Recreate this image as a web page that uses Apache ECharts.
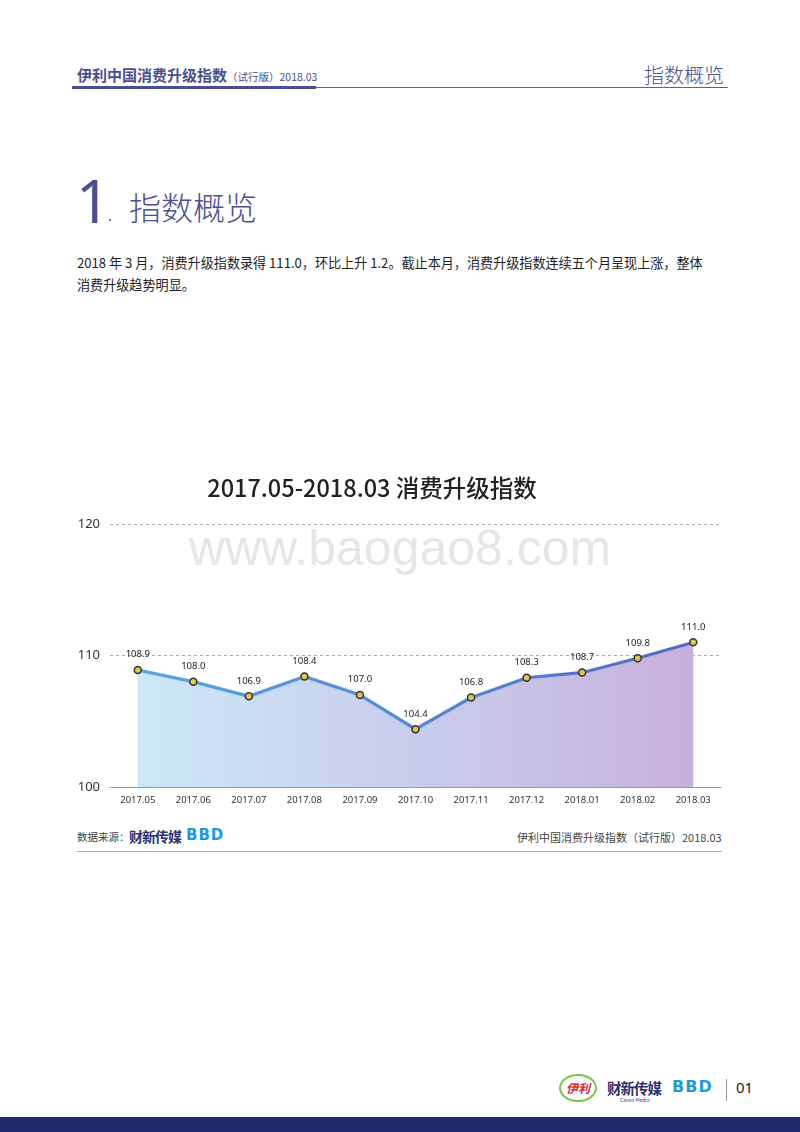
<!DOCTYPE html>
<html><head><meta charset="utf-8">
<script src="https://cdn.jsdelivr.net/npm/echarts@6/dist/echarts.min.js"></script>
<style>
html,body{margin:0;padding:0;background:#fff;}
body{width:800px;height:1132px;position:relative;overflow:hidden;font-family:"Noto Sans CJK SC","Noto Sans",sans-serif;}
.abs{position:absolute;white-space:nowrap;}
</style></head><body>
<div class="abs" style="left:77px;top:64px;font-size:15px;font-weight:bold;color:#4b4f8e;">伊利中国消费升级指数<span style="font-size:10.5px;font-weight:normal;">（试行版）2018.03</span></div>
<div class="abs" style="left:644px;top:60px;font-size:20px;color:#4b4f8e;font-weight:300;">指数概览</div>
<div class="abs" style="left:72px;top:87px;width:656px;height:1px;background:#5d6296;"></div>
<div class="abs" style="left:72px;top:86px;width:244px;height:3px;background:#4b4f8e;"></div>

<div class="abs" style="left:76px;top:166px;font-size:60px;line-height:68px;color:#4b4f8e;font-family:'Noto Sans',sans-serif;font-weight:400;">1</div>
<div class="abs" style="left:108px;top:208px;font-size:14px;line-height:14px;color:#4b4f8e;">.</div>
<div class="abs" style="left:129px;top:184px;font-size:32px;line-height:44px;color:#4b4f8e;font-weight:300;">指数概览</div>
<div class="abs" style="left:77px;top:252px;font-size:13.1px;line-height:22px;color:#222;">2018 年 3 月，消费升级指数录得 111.0，环比上升 1.2。截止本月，消费升级指数连续五个月呈现上涨，整体<br>消费升级趋势明显。</div>

<div id="chart" class="abs" style="left:0;top:460px;width:800px;height:360px;"></div>

<div class="abs" style="left:77px;top:829px;font-size:10.5px;color:#444;">数据来源：</div>
<div class="abs" style="left:129px;top:826px;font-size:14px;font-weight:bold;color:#2d3170;letter-spacing:-1px;">财新传媒</div>
<div class="abs" style="left:186px;top:826px;font-size:15px;font-weight:900;color:#1a9be0;letter-spacing:1px;font-family:'DejaVu Sans',sans-serif;">BBD</div>
<div class="abs" style="left:517px;top:829px;font-size:11px;color:#444;">伊利中国消费升级指数（试行版）2018.03</div>
<div class="abs" style="left:77px;top:851px;width:645px;height:1px;background:#aaa;"></div>

<div class="abs" style="left:559px;top:1074px;width:34px;height:24px;border-radius:50%;border:2px solid #7cc243;font-size:12px;font-weight:bold;color:#d8282f;text-align:center;line-height:24px;font-style:italic;">伊利</div>
<div class="abs" style="left:607px;top:1077px;font-size:14.5px;font-weight:bold;color:#2d3170;letter-spacing:-1px;">财新传媒</div>
<div class="abs" style="left:620px;top:1096px;font-size:5px;color:#2d3170;">Caixin Media</div>
<div class="abs" style="left:672px;top:1077px;font-size:16px;font-weight:900;color:#1a9be0;letter-spacing:1px;font-family:'DejaVu Sans',sans-serif;">BBD</div>
<div class="abs" style="left:726px;top:1079px;width:1px;height:22px;background:#999;"></div>
<div class="abs" style="left:736px;top:1077px;font-size:15px;color:#222;font-family:'Noto Sans',sans-serif;">01</div>
<div class="abs" style="left:0;top:1117px;width:800px;height:15px;background:#1f2a6c;"></div>

<script>
var categories = ['2017.05','2017.06','2017.07','2017.08','2017.09','2017.10','2017.11','2017.12','2018.01','2018.02','2018.03'];
var indexValues = [108.9,108.0,106.9,108.4,107.0,104.4,106.8,108.3,108.7,109.8,111.0];
var yTicks = [100,110,120];

var chart = echarts.init(document.getElementById('chart'));
chart.setOption({
  animation:false,
  title:{text:'2017.05-2018.03 消费升级指数',left:367,textAlign:'center',top:11,
    textStyle:{fontSize:23.5,fontWeight:500,color:'#222',fontFamily:'Noto Sans CJK SC'}},
  graphic:[{type:'text',left:'center',top:66,z:-10,silent:true,
    style:{text:'www.baogao8.com',fontSize:50,fill:'#e6e6e6',fontFamily:'Liberation Sans, Arial',fontWeight:300}}],
  grid:{left:110,right:79,top:64,bottom:33},
  xAxis:{type:'category',data:categories,boundaryGap:true,
    axisLine:{lineStyle:{color:'#999',width:1}},
    axisTick:{inside:true,length:6,lineStyle:{color:'#999'}},
    axisLabel:{fontSize:9.5,color:'#333',margin:8,fontFamily:'Noto Sans'}},
  yAxis:{type:'value',min:yTicks[0],max:yTicks[2],interval:10,
    axisLine:{show:false},axisTick:{show:false},
    axisLabel:{fontSize:13,color:'#333',margin:10,fontFamily:'Noto Sans'},
    splitLine:{lineStyle:{type:[3,3],color:'#aaa',width:1}}},
  series:[{type:'line',data:indexValues,symbol:'circle',symbolSize:7,
    lineStyle:{width:3,color:new echarts.graphic.LinearGradient(0,0,1,0,[{offset:0,color:'#55a8e0'},{offset:1,color:'#5565c0'}]),
      shadowColor:'rgba(90,150,220,0.35)',shadowBlur:2},
    itemStyle:{color:'#e2c54a',borderColor:'#333',borderWidth:1.5},
    label:{show:true,position:'top',distance:6,fontSize:9.5,color:'#222',fontFamily:'Noto Sans',
      formatter:function(p){return p.value.toFixed(1);}},
    areaStyle:{opacity:1,color:new echarts.graphic.LinearGradient(0,0,1,0,[{offset:0,color:'#cbe8f8'},{offset:0.5,color:'#c8cdec'},{offset:1,color:'#c6b0dc'}])}
  }]
});
</script>
</body></html>
